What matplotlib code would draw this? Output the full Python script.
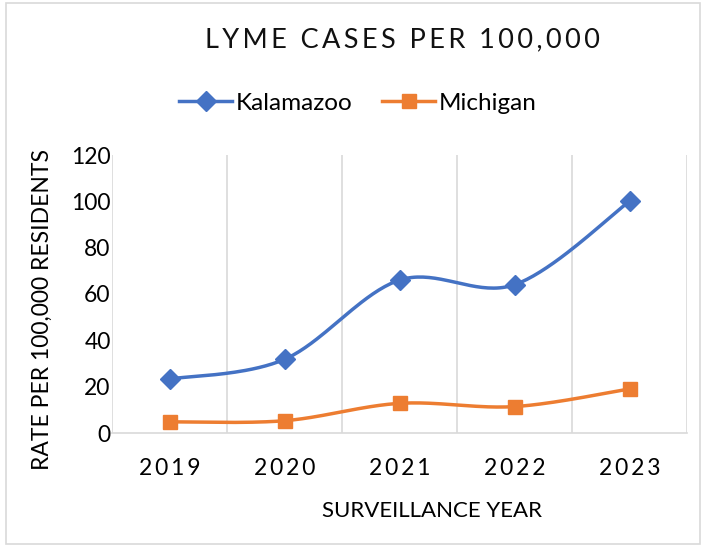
import numpy as np
import matplotlib.pyplot as plt
from matplotlib.lines import Line2D
from matplotlib.patches import Rectangle

plt.rcParams['font.family'] = ['Lato', 'DejaVu Sans']

years = ['2019', '2020', '2021', '2022', '2023']
kalamazoo = [23.3, 31.8, 66, 64, 100]
michigan = [4.8, 5.3, 12.8, 11.4, 19]
series_names = ['Kalamazoo', 'Michigan']

BLUE = '#4472C4'
ORANGE = '#ED7D31'
GRID = '#D9D9D9'
THIN = '\u2009'


def smooth(xs, ys, n=40):
    # excel style smoothed line (catmull-rom as bezier)
    pts = np.column_stack([xs, ys]).astype(float)
    padded = np.vstack([pts[0], pts, pts[-1]])
    t = np.linspace(0, 1, n)[:, None]
    out = []
    for i in range(len(pts) - 1):
        p0, p3 = pts[i], pts[i + 1]
        c1 = p0 + (padded[i + 2] - padded[i]) / 6
        c2 = p3 - (padded[i + 3] - padded[i + 1]) / 6
        seg = (1 - t)**3 * p0 + 3 * (1 - t)**2 * t * c1 + 3 * (1 - t) * t**2 * c2 + t**3 * p3
        out.append(seg if i == 0 else seg[1:])
    return np.vstack(out)


fig = plt.figure(figsize=(7.04, 5.46), dpi=100)
ax = fig.add_axes([112 / 704, 1 - 433 / 546, 575 / 704, 278 / 546])

x = np.arange(len(years))
for vals, color, marker in [(kalamazoo, BLUE, 'D'), (michigan, ORANGE, 's')]:
    curve = smooth(x, vals)
    ax.plot(curve[:, 0], curve[:, 1], color=color, lw=2.5, solid_capstyle='round', zorder=3)
    ax.plot(x, vals, linestyle='none', marker=marker, color=color,
            markersize=10 if marker == 'D' else 10.5, zorder=4)

ax.set_xlim(-0.5, len(years) - 0.5)
ax.set_ylim(0, 120)
ax.set_yticks(range(0, 121, 20))
ax.set_xticks(x)
ax.set_xticklabels([THIN.join(y) for y in years], fontsize=16.5)
ax.tick_params(axis='y', length=0, labelsize=16.5, pad=1)
ax.tick_params(axis='x', length=0, pad=18)
for b in np.arange(-0.5, len(years), 1):
    ax.axvline(b, color=GRID, lw=1.2, zorder=1)
for s in ['top', 'right', 'left']:
    ax.spines[s].set_visible(False)
ax.spines['bottom'].set_color(GRID)
ax.spines['bottom'].set_linewidth(1.2)

fig.text(402 / 704, 1 - 40 / 546, THIN.join('LYME CASES PER 100,000'), ha='center', va='center',
         fontsize=19.5, color='#111111')
fig.text(432 / 704, 1 - 511 / 546, 'SURVEILLANCE YEAR', ha='center', va='center', fontsize=16)
fig.text(42 / 704, 1 - 309 / 546, 'RATE PER 100,000 RESIDENTS', ha='center', va='center',
         rotation=90, fontsize=16.5)

handles = [Line2D([], [], color=BLUE, lw=2.5, marker='D', markersize=10),
           Line2D([], [], color=ORANGE, lw=2.5, marker='s', markersize=10.5)]
fig.legend(handles, series_names, loc='center', bbox_to_anchor=(358 / 704, 1 - 103 / 546),
           ncol=2, frameon=False, fontsize=17.5, handlelength=2.2, handletextpad=0.15,
           columnspacing=1.2)

# chart border
fig.patches.append(Rectangle((0.008, 0.004), 0.986, 0.99, transform=fig.transFigure,
                             fill=False, edgecolor=GRID, lw=1.2))

fig.savefig('out.png', dpi=100)
